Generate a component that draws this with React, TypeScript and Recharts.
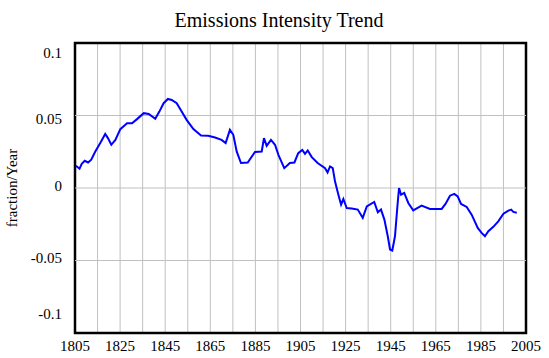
import { CartesianGrid, Line, LineChart, ReferenceArea, ReferenceLine, XAxis, YAxis } from "recharts";

const years = [
  1805.4, 1807, 1808, 1809.3, 1810.8, 1812.2, 1814, 1816.2, 1818.4, 1819.6, 1821.1, 1822.9,
  1825.1, 1828.1, 1830.3, 1832.5, 1835.5, 1837.7, 1840.6, 1842.4, 1844.3, 1846.2, 1847.9,
  1850.1, 1852.3, 1854.5, 1857.5, 1860.9, 1864.1, 1867.1, 1870, 1871.8, 1873.7, 1875.2,
  1876.7, 1878.6, 1881.6, 1884.8, 1887.8, 1888.8, 1890, 1891.9, 1893.7, 1895.2, 1897.8,
  1900.3, 1902.3, 1904, 1905.8, 1907, 1908.2, 1910, 1912.6, 1915.9, 1917, 1918.1, 1919.3,
  1920.3, 1921.8, 1923, 1924, 1925.5, 1927.7, 1930.4, 1932.6, 1934.4, 1937.7, 1939.3,
  1940.7, 1942.2, 1943.7, 1944.7, 1945.7, 1946.9, 1948.1, 1948.7, 1949.6, 1951, 1952.8,
  1955, 1958.7, 1962.4, 1967.6, 1969.3, 1971.3, 1973.2, 1974.7, 1976.2, 1978.7, 1980.9,
  1983.6, 1985.3, 1986.8, 1988.3, 1990.5, 1992.7, 1995, 1997.2, 1998.4, 1999.4, 2000.9,
];

const values = [
  0.0153, 0.0133, 0.0167, 0.0188, 0.0176, 0.0195, 0.0252, 0.031, 0.0373, 0.0344, 0.0298, 0.0332,
  0.0406, 0.0447, 0.0447, 0.0475, 0.0516, 0.0511, 0.0477, 0.0527, 0.0585, 0.0614, 0.0607,
  0.0585, 0.0527, 0.047, 0.0406, 0.0362, 0.036, 0.0348, 0.0332, 0.031, 0.0401, 0.0367,
  0.0252, 0.0172, 0.0176, 0.0248, 0.0252, 0.0344, 0.029, 0.0332, 0.0298, 0.0229, 0.0137,
  0.0172, 0.0176, 0.024, 0.0263, 0.0236, 0.0259, 0.0213, 0.0172, 0.0137, 0.0107, 0.0149, 0.0137,
  0.0046, -0.0046, -0.0115, -0.0076, -0.0138, -0.0142, -0.0149, -0.0206, -0.0127, -0.0096, -0.0168,
  -0.0149, -0.0218, -0.0333, -0.0424, -0.0431, -0.0333, -0.0103, 0.0, -0.0046, -0.0034, -0.0103,
  -0.0154, -0.0122, -0.0144, -0.0144, -0.011, -0.0053, -0.0041, -0.0058, -0.011, -0.0131, -0.0184,
  -0.0275, -0.031, -0.0333, -0.0298, -0.0268, -0.023, -0.0177, -0.0156, -0.0149, -0.0165, -0.017,
];

const xTicks = [1805, 1825, 1845, 1865, 1885, 1905, 1925, 1945, 1965, 1985, 2005];
const xGrid = [1815, 1825, 1835, 1845, 1855, 1865, 1875, 1885, 1895, 1905, 1915, 1925, 1935, 1945, 1955, 1965, 1975, 1985, 1995];
const yTicks = [-0.1, -0.05, 0, 0.05, 0.1];
const yGrid = [-0.05, 0, 0.05];

const data = years.map((year, i) => ({ year, value: values[i] }));

const font = "Liberation Serif";

// Vensim pushes the end labels inside the plot
const yShift: Record<string, number> = { "0.1": 12, "0.05": 5, "0": 0, "-0.05": -1, "-0.1": -17 };

const renderYTick = (props: any) => {
  const { x, y, payload } = props;
  const dy = yShift[String(payload.value)] ?? 0;
  return (
    <text x={x} y={y + dy} textAnchor="end" dominantBaseline="middle" fontFamily={font} fontSize={15} fill="#000">
      {String(payload.value)}
    </text>
  );
};

const renderXTick = (props: any) => {
  const { x, y, payload } = props;
  return (
    <text x={x} y={y + 7} textAnchor="middle" dominantBaseline="middle" fontFamily={font} fontSize={15} fill="#000">
      {String(payload.value)}
    </text>
  );
};

export default function App() {
  return (
    <div style={{ position: "absolute", left: 0, top: 0, width: 549, height: 358, background: "#fff", fontFamily: font }}>
      <svg width={549} height={40} style={{ position: "absolute", left: 0, top: 0 }}>
        <text x={279} y={27} textAnchor="middle" fontFamily={font} fontSize={20} fill="#000">
          Emissions Intensity Trend
        </text>
      </svg>
      <svg width={30} height={358} style={{ position: "absolute", left: 0, top: 0 }}>
        <text
          x={14}
          y={188}
          transform="rotate(-90 14 188)"
          textAnchor="middle"
          dominantBaseline="middle"
          fontFamily={font}
          fontSize={15}
          fill="#000"
        >
          fraction/Year
        </text>
      </svg>
      <div style={{ position: "absolute", left: 0, top: 0 }}>
        <LineChart width={549} height={358} data={data} margin={{ top: 43, right: 23, left: 15, bottom: 0 }}>
          <CartesianGrid stroke="#c0c0c0" horizontal={false} verticalValues={xGrid} />
          {yGrid.map((v) => (
            <ReferenceLine key={v} y={v} stroke="#c0c0c0" />
          ))}
          <XAxis
            dataKey="year"
            type="number"
            domain={[1805, 2005]}
            ticks={xTicks}
            allowDataOverflow
            height={25}
            tickLine={false}
            axisLine={false}
            tick={renderXTick}
            interval={0}
          />
          <YAxis
            type="number"
            domain={[-0.1, 0.1]}
            ticks={yTicks}
            width={60}
            tickLine={false}
            axisLine={false}
            tick={renderYTick}
            interval={0}
            tickMargin={7}
          />
          <ReferenceArea x1={1805} x2={2005} y1={-0.1} y2={0.1} fill="none" stroke="#000" strokeWidth={2.5} />
          <Line
            dataKey="value"
            type="linear"
            stroke="#0000ff"
            strokeWidth={2}
            dot={false}
            isAnimationActive={false}
          />
        </LineChart>
      </div>
    </div>
  );
}
